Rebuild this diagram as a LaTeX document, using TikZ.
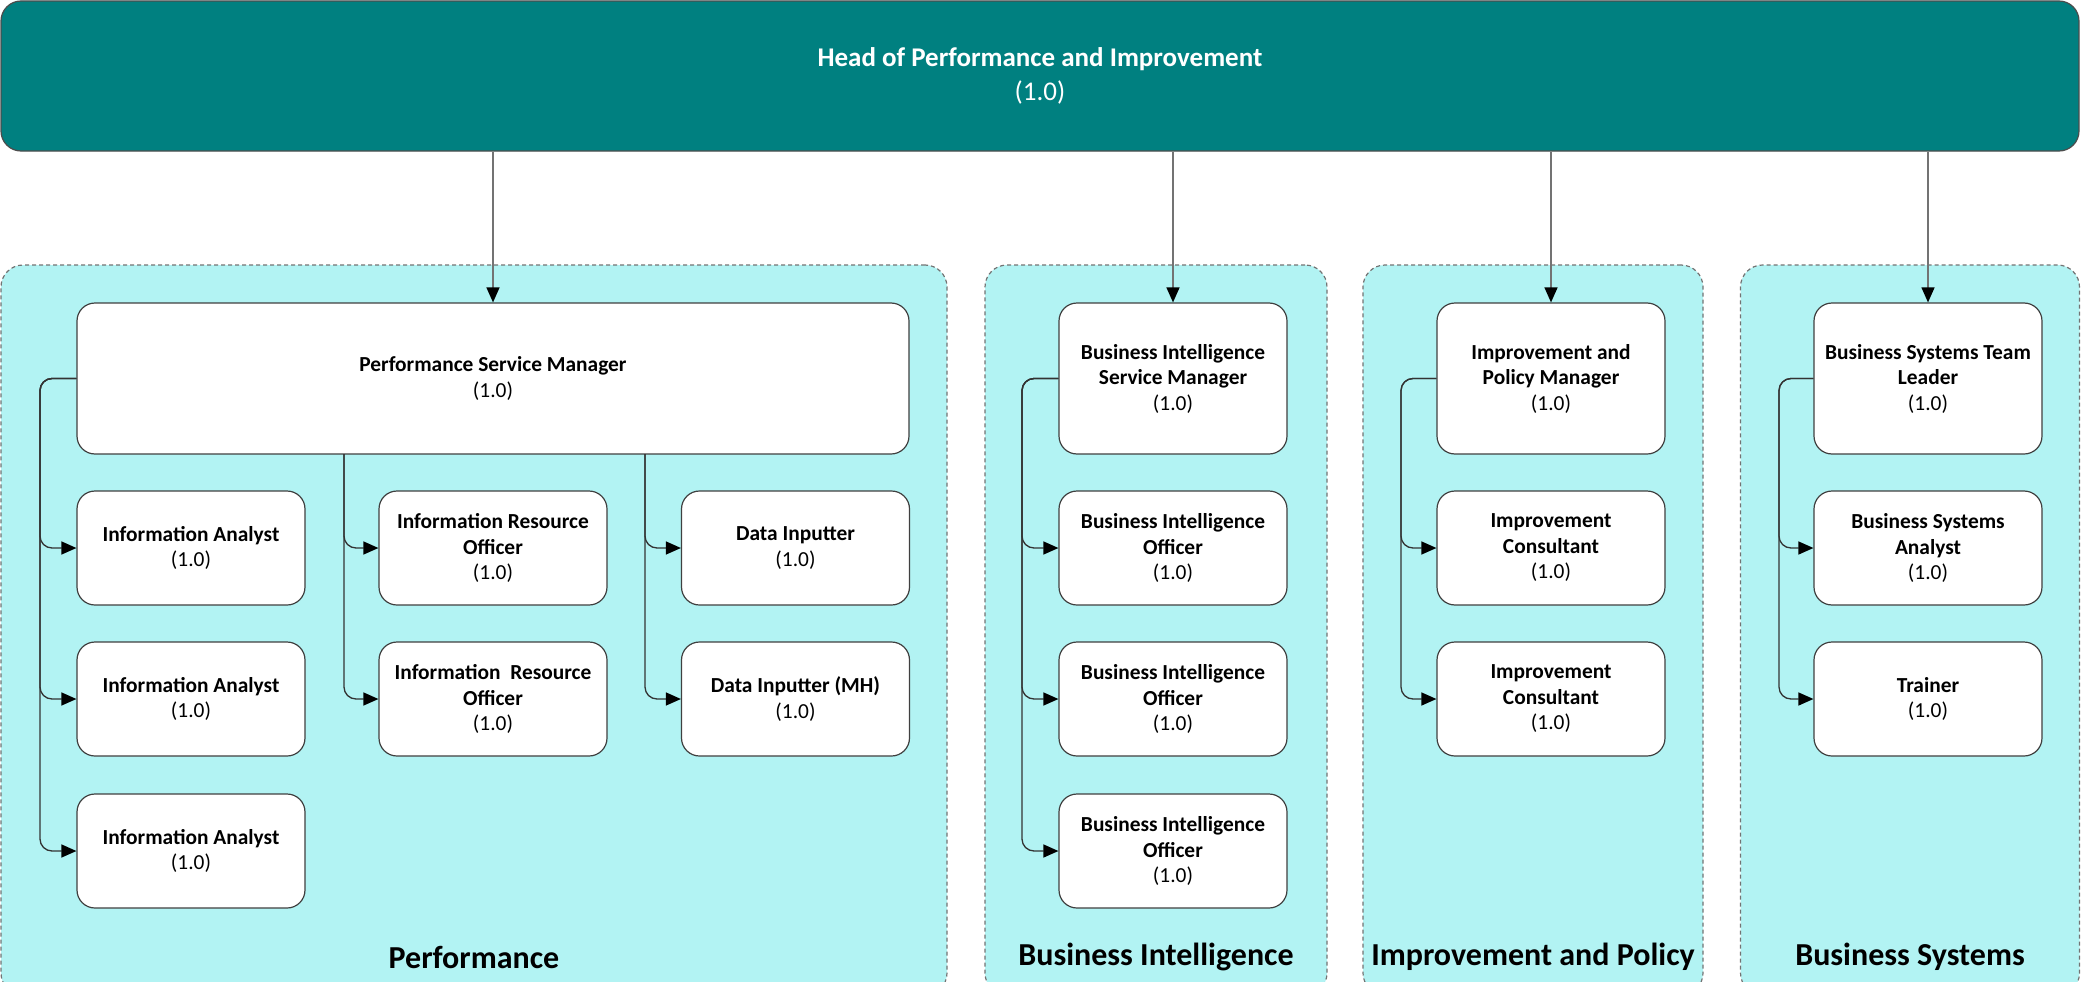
\documentclass[tikz,border=0pt]{standalone}
\usepackage{fontspec}
\setmainfont{Carlito}
\usepackage{tikz}
\usetikzlibrary{arrows.meta}
\usepackage{xcolor}

\definecolor{headfill}{RGB}{0,128,128}
\definecolor{groupfill}{RGB}{178,243,243}

\begin{document}
\begin{tikzpicture}[x=1pt, y=-1pt,
  headbox/.style={draw=black!70, fill=headfill, text=white, rounded corners=20pt, minimum width=2078pt, minimum height=150pt, align=center, font=\fontsize{27}{34.5}\selectfont, line width=1.2pt},
  group/.style={draw=black!55, fill=groupfill, dash pattern=on 4pt off 3pt, rounded corners=22pt, minimum height=730pt, line width=1.2pt},
  grouplabel/.style={font=\fontsize{32}{38}\selectfont\bfseries},
  role/.style={draw=black!75, fill=white, rounded corners=18pt, minimum width=228pt, minimum height=114pt, align=center, font=\fontsize{21.4}{25.5}\selectfont, line width=1.2pt},
  lead/.style={role, minimum height=151pt},
  feed/.style={draw=black!55, line width=1.3pt, -{Triangle[length=15pt, width=13pt, color=black]}},
  link/.style={draw=black!80, line width=1.3pt, rounded corners=12pt, -{Triangle[length=15pt, width=13pt, color=black]}}]
  \clip (0, 0) rectangle (2081, 982);

  \node[headbox] (head) at (1040, 76) {\textbf{Head of Performance and Improvement}\\(1.0)};

  \node[group, minimum width=946pt] (perf) at (474, 630) {};
  \node[group, minimum width=342pt] (bi) at (1156, 630) {};
  \node[group, minimum width=340pt] (ip) at (1533, 630) {};
  \node[group, minimum width=339pt] (bs) at (1910, 630) {};

  \node[grouplabel] (perfT) at (474, 957) {Performance};
  \node[grouplabel] (biT) at (1156, 957) {Business Intelligence};
  \node[grouplabel] (ipT) at (1533, 957) {Improvement and Policy};
  \node[grouplabel] (bsT) at (1910, 957) {Business Systems};

  \node[lead, minimum width=832pt] (psm) at (493, 378.5) {\textbf{Performance Service Manager}\\(1.0)};
  \node[role] (ia1) at (191, 548) {\textbf{Information Analyst}\\(1.0)};
  \node[role] (ia2) at (191, 699) {\textbf{Information Analyst}\\(1.0)};
  \node[role] (ia3) at (191, 851) {\textbf{Information Analyst}\\(1.0)};
  \node[role] (iro1) at (493, 548) {\textbf{Information Resource}\\\textbf{Officer}\\(1.0)};
  \node[role] (iro2) at (493, 699) {\textbf{Information\ \ Resource}\\\textbf{Officer}\\(1.0)};
  \node[role] (di1) at (795.5, 548) {\textbf{Data Inputter}\\(1.0)};
  \node[role] (di2) at (795.5, 699) {\textbf{Data Inputter (MH)}\\(1.0)};

  \node[lead] (bism) at (1173, 378.5) {\textbf{Business Intelligence}\\\textbf{Service Manager}\\(1.0)};
  \node[role] (bio1) at (1173, 548) {\textbf{Business Intelligence}\\\textbf{Officer}\\(1.0)};
  \node[role] (bio2) at (1173, 699) {\textbf{Business Intelligence}\\\textbf{Officer}\\(1.0)};
  \node[role] (bio3) at (1173, 851) {\textbf{Business Intelligence}\\\textbf{Officer}\\(1.0)};

  \node[lead] (ipm) at (1551, 378.5) {\textbf{Improvement and}\\\textbf{Policy Manager}\\(1.0)};
  \node[role] (ic1) at (1551, 548) {\textbf{Improvement}\\\textbf{Consultant}\\(1.0)};
  \node[role] (ic2) at (1551, 699) {\textbf{Improvement}\\\textbf{Consultant}\\(1.0)};

  \node[lead] (bstl) at (1928, 378.5) {\textbf{Business Systems Team}\\\textbf{Leader}\\(1.0)};
  \node[role] (bsa) at (1928, 548) {\textbf{Business Systems}\\\textbf{Analyst}\\(1.0)};
  \node[role] (trn) at (1928, 699) {\textbf{Trainer}\\(1.0)};

  \coordinate (perfL) at (40, 378.5);
  \coordinate (perfM) at (344, 454);
  \coordinate (perfR) at (645, 454);
  \coordinate (biL) at (1022, 378.5);
  \coordinate (ipL) at (1401, 378.5);
  \coordinate (bsL) at (1779, 378.5);

  \draw[feed] (head.south -| psm.north) -- (psm.north);
  \draw[feed] (head.south -| bism.north) -- (bism.north);
  \draw[feed] (head.south -| ipm.north) -- (ipm.north);
  \draw[feed] (head.south -| bstl.north) -- (bstl.north);

  \draw[link] (psm.west) -- (perfL) |- (ia1.west);
  \draw[link] (psm.west) -- (perfL) |- (ia2.west);
  \draw[link] (psm.west) -- (perfL) |- (ia3.west);
  \draw[link] (perfM) |- (iro1.west);
  \draw[link] (perfM) |- (iro2.west);
  \draw[link] (perfR) |- (di1.west);
  \draw[link] (perfR) |- (di2.west);

  \draw[link] (bism.west) -- (biL) |- (bio1.west);
  \draw[link] (bism.west) -- (biL) |- (bio2.west);
  \draw[link] (bism.west) -- (biL) |- (bio3.west);

  \draw[link] (ipm.west) -- (ipL) |- (ic1.west);
  \draw[link] (ipm.west) -- (ipL) |- (ic2.west);

  \draw[link] (bstl.west) -- (bsL) |- (bsa.west);
  \draw[link] (bstl.west) -- (bsL) |- (trn.west);
\end{tikzpicture}
\end{document}
